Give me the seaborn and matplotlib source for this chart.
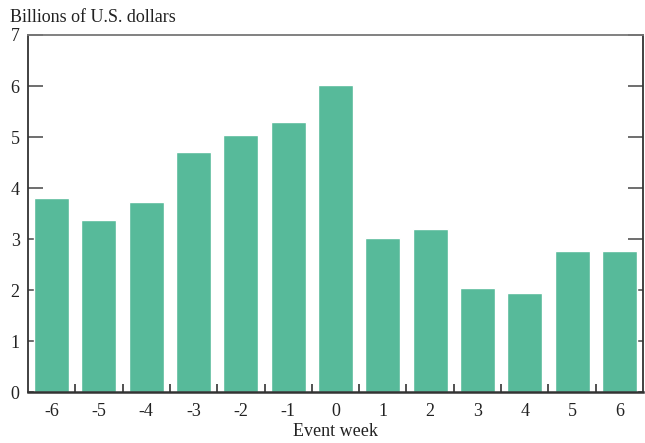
import matplotlib
matplotlib.use("Agg")
import matplotlib.pyplot as plt
import seaborn as sns
import numpy as np
from matplotlib.ticker import FixedLocator

weeks = ["-6", "-5", "-4", "-3", "-2", "-1", "0", "1", "2", "3", "4", "5", "6"]
values = [3.80, 3.37, 3.73, 4.71, 5.04, 5.29, 6.02, 3.02, 3.20, 2.04, 1.94, 2.76, 2.76]
yticks = [0, 1, 2, 3, 4, 5, 6, 7]

sns.set_style("white")
plt.rcParams["font.family"] = ["Liberation Serif", "DejaVu Serif"]

fig = plt.figure(figsize=(6.45, 4.43), dpi=100)
ax = fig.add_axes([0.0434, 0.115, 0.9535, 0.806])

sns.barplot(x=weeks, y=values, color="#57ba9a", saturation=1, width=0.74, ax=ax)

ax.set_xlim(-0.5, len(weeks) - 0.5)
ax.set_ylim(0, 7)
ax.set_yticks(yticks)
ax.set_yticklabels([str(t) for t in yticks], fontsize=13, color="#222222")
ax.set_xticks(range(len(weeks)))
ax.set_xticklabels(weeks, fontsize=13, color="#222222")
ax.xaxis.set_minor_locator(FixedLocator(np.arange(0.5, len(weeks) - 1, 1.0)))

ax.tick_params(axis="x", which="major", length=0, pad=8)
ax.tick_params(axis="x", which="minor", direction="in", length=6, width=1.2, color="#333333", bottom=True)
ax.tick_params(axis="y", which="major", direction="in", length=11, width=1.2, color="#555555",
               left=True, right=True, pad=6)

for side in ["left", "right", "bottom"]:
    ax.spines[side].set_color("#333333")
    ax.spines[side].set_linewidth(1.3)
ax.spines["bottom"].set_linewidth(1.8)
ax.spines["top"].set_color("#777777")
ax.spines["top"].set_linewidth(1.3)

ax.set_xlabel("Event week", fontsize=13, color="#222222", labelpad=2)
ax.set_ylabel("")
fig.text(0.016, 0.96, "Billions of U.S. dollars", fontsize=13, color="#222222", va="center", ha="left")

fig.savefig("out.png", dpi=100)
